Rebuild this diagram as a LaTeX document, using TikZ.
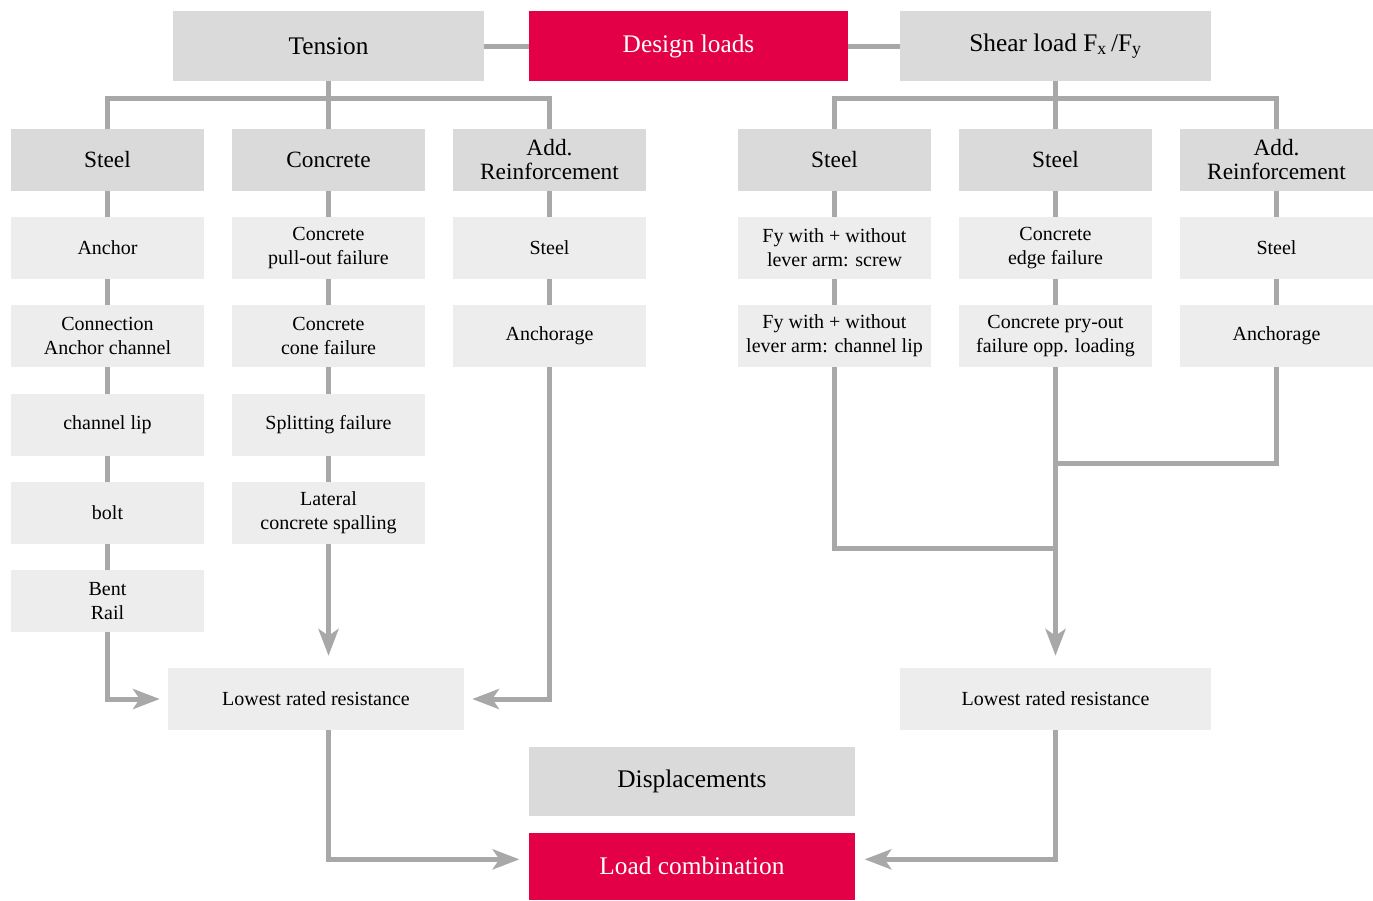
\documentclass[tikz,border=0pt]{standalone}
\usepackage{fontspec}
\setmainfont{Liberation Serif}
\usetikzlibrary{arrows.meta, backgrounds, positioning}
\definecolor{boxdark}{RGB}{218,218,218}
\definecolor{boxlight}{RGB}{237,237,237}
\definecolor{linegray}{RGB}{168,168,168}
\definecolor{loadred}{RGB}{228,0,70}
\tikzset{
  head/.style={fill=boxdark, minimum width=233.25pt, minimum height=52.5pt, font=\fontsize{19}{22}\selectfont},
  redbox/.style={fill=loadred, text=white, minimum width=239.25pt, minimum height=52.5pt, font=\fontsize{19}{22}\selectfont},
  group/.style={fill=boxdark, minimum width=144.75pt, minimum height=46.5pt, align=center, font=\fontsize{17.5}{18}\selectfont},
  item/.style={fill=boxlight, minimum width=144.75pt, minimum height=46.5pt, align=center, font=\fontsize{15}{18}\selectfont},
  link/.style={draw=linegray, line width=3.75pt},
  flow/.style={link, -{Stealth[length=20pt, width=15pt, inset=5pt]}},
}
\begin{document}
\begin{tikzpicture}[x=0.75pt, y=-0.75pt, inner sep=2pt]
\useasboundingbox (0,0) rectangle (1373,900);
% top row
\node[head] (tension) at (328.5,46) {Tension};
\node[redbox] (design) at (688.5,46) {Design loads};
\node[head] (shear) at (1055.5,46) {Shear load F\textsubscript{x}\,/F\textsubscript{y}};
%
\node[group] (t steel) at (107.5,160) {Steel};
\node[group] (t conc) at (328.5,160) {Concrete};
\node[group] (t reinf) at (549.5,160) {Add.\\Reinforcement};
\node[group] (s steel) at (834.5,160) {Steel};
\node[group] (s conc) at (1055.5,160) {Steel};
\node[group] (s reinf) at (1276.5,160) {Add.\\Reinforcement};
%
\node[item] (t anchor) at (107.5,248) {Anchor};
\node[item] (t channel) at (107.5,336) {Connection\\Anchor channel};
\node[item] (t lip) at (107.5,425) {channel lip};
\node[item] (t bolt) at (107.5,513) {bolt};
\node[item] (t rail) at (107.5,601) {Bent\\Rail};
\node[item] (t pullout) at (328.5,248) {Concrete\\pull-out failure};
\node[item] (t cone) at (328.5,336) {Concrete\\cone failure};
\node[item] (t split) at (328.5,425) {Splitting failure};
\node[item] (t spall) at (328.5,513) {Lateral\\concrete spalling};
\node[item] (t rsteel) at (549.5,248) {Steel};
\node[item] (t ranch) at (549.5,336) {Anchorage};
%
\node[item] (s screw) at (834.5,248) {Fy with + without\\lever arm: screw};
\node[item] (s lip) at (834.5,336) {Fy with + without\\lever arm: channel lip};
\node[item] (s edge) at (1055.5,248) {Concrete\\edge failure};
\node[item] (s pryout) at (1055.5,336) {Concrete pry-out\\failure opp. loading};
\node[item] (s rsteel) at (1276.5,248) {Steel};
\node[item] (s ranch) at (1276.5,336) {Anchorage};
%
\node[item, minimum width=222pt] (t lowest) at (316,699) {Lowest rated resistance};
\node[item, minimum width=233.25pt] (s lowest) at (1055.5,699) {Lowest rated resistance};
\node[head, minimum width=244.5pt, minimum height=51.75pt] (displ) at (692,781) {Displacements};
\node[redbox, minimum width=244.5pt, minimum height=50.25pt] (comb) at (692,866) {Load combination};
% connectors
\coordinate (t bus) at (328.5,98);
\coordinate (s bus) at (1055.5,98);
\coordinate (s join a) at (1055.5,463);
\coordinate (s join b) at (1055.5,548);
\draw[link] (tension.east) -- (design.west);
\draw[link] (design.east) -- (shear.west);
\draw[link] (tension) -- (t bus);
\draw[link] (t steel.north) |- (t bus) -| (t reinf.north);
\draw[link] (t bus) -- (t conc.north);
\draw[link] (shear) -- (s bus);
\draw[link] (s steel.north) |- (s bus) -| (s reinf.north);
\draw[link] (s bus) -- (s conc.north);
%
\draw[link] (t steel) -- (t anchor);
\draw[link] (t anchor) -- (t channel);
\draw[link] (t channel) -- (t lip);
\draw[link] (t lip) -- (t bolt);
\draw[link] (t bolt) -- (t rail);
\draw[link] (t conc) -- (t pullout);
\draw[link] (t pullout) -- (t cone);
\draw[link] (t cone) -- (t split);
\draw[link] (t split) -- (t spall);
\draw[link] (t reinf) -- (t rsteel);
\draw[link] (t rsteel) -- (t ranch);
\draw[link] (s steel) -- (s screw);
\draw[link] (s screw) -- (s lip);
\draw[link] (s conc) -- (s edge);
\draw[link] (s edge) -- (s pryout);
\draw[link] (s reinf) -- (s rsteel);
\draw[link] (s rsteel) -- (s ranch);
%
\draw[flow, shorten >=6pt] (t rail.south) |- (t lowest.west);
\draw[flow, shorten >=9pt] (t spall.south) -- (t spall.south |- t lowest.north);
\draw[flow, shorten >=6pt] (t ranch.south) |- (t lowest.east);
\draw[link] (s lip.south) |- (s join b);
\draw[link] (s ranch.south) |- (s join a);
\draw[flow, shorten >=9pt] (s pryout.south) -- (s pryout.south |- s lowest.north);
\draw[flow, shorten >=7pt] (t spall |- t lowest.south) |- ([yshift=5pt]comb.west);
\draw[flow, shorten >=7pt] (s lowest.south) |- ([yshift=5pt]comb.east);
\end{tikzpicture}
\end{document}
